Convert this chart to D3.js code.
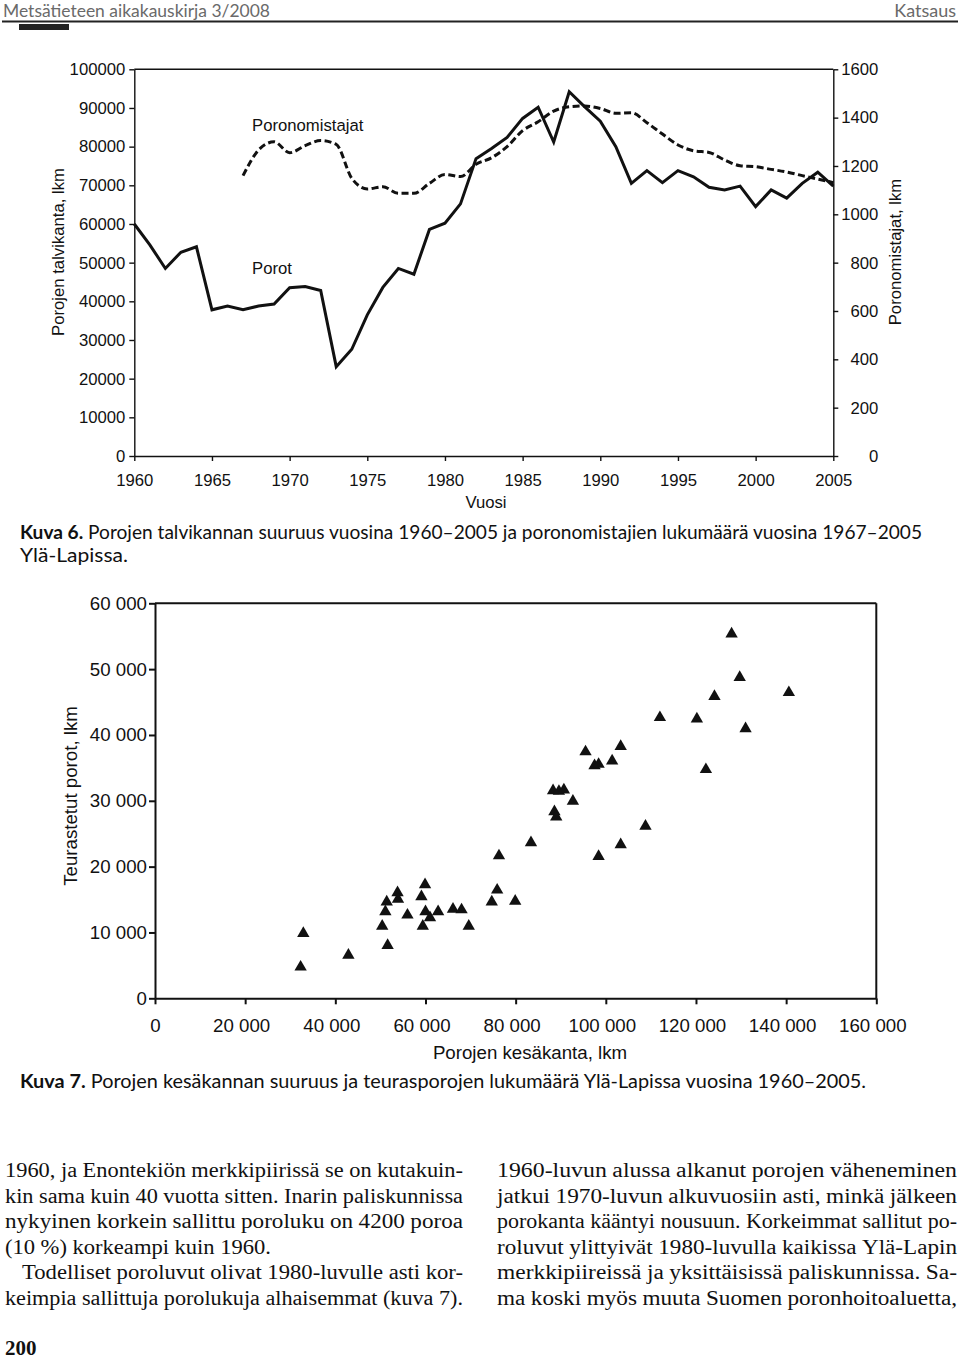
<!DOCTYPE html>
<html><head><meta charset="utf-8">
<script src="https://cdn.jsdelivr.net/npm/d3@7"></script>
<style>body{margin:0;background:#fff} svg{display:block}</style>
</head><body>
<svg id="c" width="960" height="1361"></svg>
<script>
// ---------- DATA ----------
const years = [1960,1961,1962,1963,1964,1965,1966,1967,1968,1969,1970,1971,1972,1973,1974,1975,1976,1977,1978,1979,1980,1981,1982,1983,1984,1985,1986,1987,1988,1989,1990,1991,1992,1993,1994,1995,1996,1997,1998,1999,2000,2001,2002,2003,2004,2005];
const porot = [60000,54600,48500,52700,54100,37800,38800,37800,38800,39300,43500,43800,42800,23100,27600,36500,43600,48500,47000,58600,60200,65200,76900,79500,82400,87300,90200,81200,94200,90300,86600,80000,70500,73800,70700,73800,72200,69500,68800,69800,64500,68800,66700,70500,73400,69800];
const omistajaYears = years.slice(7);
const omistajat = [1160,1266,1300,1255,1284,1305,1289,1149,1105,1114,1087,1087,1128,1165,1156,1207,1234,1280,1346,1383,1427,1445,1448,1438,1418,1420,1379,1332,1287,1263,1256,1225,1201,1197,1186,1175,1160,1146,1131];
const leftTicks = [0,10000,20000,30000,40000,50000,60000,70000,80000,90000,100000];
const rightTicks = [0,200,400,600,800,1000,1200,1400,1600];
const yearTicks = [1960,1965,1970,1975,1980,1985,1990,1995,2000,2005];

const kesakanta = [32300,32900,42900,50400,51100,51400,51600,53800,53900,56000,59100,59900,59400,60000,61000,62800,66100,68000,69600,74700,75900,76300,79900,83400,88300,89600,90700,88600,89000,92700,95500,97500,98400,101400,103300,98400,103300,108800,112000,120200,122200,124100,127900,129700,131000,140600];
const teurastetut = [4900,10000,6700,11100,13300,14800,8200,16200,15200,12800,15600,17400,11100,13300,12400,13300,13700,13600,11100,14800,16600,21800,14900,23800,31700,31600,31800,28500,27700,30100,37600,35500,35700,36200,38400,21700,23500,26300,42800,42600,34900,46000,55500,48900,41100,46600];
const scatterXTicks = [0,20000,40000,60000,80000,100000,120000,140000,160000];
const scatterYTicks = [0,10000,20000,30000,40000,50000,60000];

// text, line width, indent
const col1 = [
  ["1960, ja Enontekiön merkkipiirissä se on kutakuin-", 458, 0],
  ["kin sama kuin 40 vuotta sitten. Inarin paliskunnissa", 458, 0],
  ["nykyinen korkein sallittu poroluku on 4200 poroa", 458, 0],
  ["(10 %) korkeampi kuin 1960.", 266, 0],
  ["Todelliset poroluvut olivat 1980-luvulle asti kor-", 458, 17],
  ["keimpia sallittuja porolukuja alhaisemmat (kuva 7).", 458, 0]
];
const col2 = [
  ["1960-luvun alussa alkanut porojen väheneminen", 460, 0],
  ["jatkui 1970-luvun alkuvuosiin asti, minkä jälkeen", 460, 0],
  ["porokanta kääntyi nousuun. Korkeimmat sallitut po-", 460, 0],
  ["roluvut ylittyivät 1980-luvulla kaikissa Ylä-Lapin", 460, 0],
  ["merkkipiireissä ja yksittäisissä paliskunnissa. Sa-", 460, 0],
  ["ma koski myös muuta Suomen poronhoitoaluetta,", 460, 0]
];

// ---------- DRAW ----------
const svg = d3.select("#c");
const SANS = "'Liberation Sans', Arial, sans-serif";
const HUM = "Lato, 'Open Sans', sans-serif";
const SERIF = "'Liberation Serif', 'Times New Roman', serif";

// header
svg.append("text").attr("x",3).attr("y",17).attr("font-family",HUM).attr("font-size",18)
  .attr("fill","#6a6a6a").attr("textLength",267).attr("lengthAdjust","spacingAndGlyphs")
  .text("Metsätieteen aikakauskirja 3/2008");
svg.append("text").attr("x",956).attr("y",17).attr("font-family",HUM).attr("font-size",18)
  .attr("fill","#6a6a6a").attr("text-anchor","end").text("Katsaus");
svg.append("line").attr("x1",2).attr("x2",958).attr("y1",21.5).attr("y2",21.5).attr("stroke","#222").attr("stroke-width",2);
svg.append("rect").attr("x",19).attr("y",24).attr("width",50).attr("height",6).attr("fill","#222");

// ---------- chart 1 ----------
const x1 = d3.scaleLinear().domain([1960,2005]).range([134.3,833.3]);
const yL = d3.scaleLinear().domain([0,100000]).range([456,69.3]);
const yR = d3.scaleLinear().domain([0,1600]).range([456,69.3]);
const g1 = svg.append("g").attr("font-family",SANS);

function styleAxis(g, fs, sw){
  g.attr("font-family",SANS).attr("font-size",fs);
  g.selectAll("path.domain").attr("stroke","#111").attr("stroke-width",sw);
  g.selectAll(".tick line").attr("stroke","#111").attr("stroke-width",sw);
  g.selectAll(".tick text").attr("fill","#111");
}
g1.append("line").attr("x1",x1(1960)).attr("x2",x1(2005)).attr("y1",yL(100000)).attr("y2",yL(100000)).attr("stroke","#111").attr("stroke-width",1.4);
const aL = g1.append("g").attr("transform",`translate(${x1(1960)},0)`)
  .call(d3.axisLeft(yL).tickValues(leftTicks).tickFormat(d3.format("d")).tickSize(5).tickSizeOuter(0).tickPadding(4));
styleAxis(aL,16.7,1.4);
const aR = g1.append("g").attr("transform",`translate(${x1(2005)},0)`)
  .call(d3.axisRight(yR).tickValues(rightTicks).tickFormat(d3.format("d")).tickSize(5).tickSizeOuter(0));
styleAxis(aR,16.7,1.4);
aR.selectAll(".tick text").attr("text-anchor","end").attr("x",45);
const aB = g1.append("g").attr("transform",`translate(0,${yL(0)})`)
  .call(d3.axisBottom(x1).tickValues(yearTicks).tickFormat(d3.format("d")).tickSize(5).tickSizeOuter(0).tickPadding(13));
styleAxis(aB,16.7,1.4);

g1.append("path").datum(years.map((y,i)=>[y,porot[i]]))
  .attr("fill","none").attr("stroke","#111").attr("stroke-width",3).attr("stroke-linejoin","miter")
  .attr("d", d3.line().x(d=>x1(d[0])).y(d=>yL(d[1])));
g1.append("path").datum(omistajaYears.map((y,i)=>[y,omistajat[i]]))
  .attr("fill","none").attr("stroke","#111").attr("stroke-width",3).attr("stroke-dasharray","7,3.5")
  .attr("d", d3.line().x(d=>x1(d[0])).y(d=>yR(d[1])).curve(d3.curveMonotoneX));

g1.append("text").attr("x",252).attr("y",131).attr("font-size",16.7).attr("fill","#111").text("Poronomistajat");
g1.append("text").attr("x",252).attr("y",274).attr("font-size",16.7).attr("fill","#111").text("Porot");
g1.append("text").attr("x",486).attr("y",508).attr("text-anchor","middle").attr("font-size",16.7).attr("fill","#111").text("Vuosi");
g1.append("text").attr("transform","translate(64,252) rotate(-90)").attr("text-anchor","middle").attr("font-size",16.7).attr("fill","#111").text("Porojen talvikanta, lkm");
g1.append("text").attr("transform","translate(901,252) rotate(-90)").attr("text-anchor","middle").attr("font-size",16.7).attr("fill","#111").text("Poronomistajat, lkm");

// caption 6
const c6 = svg.append("text").attr("x",20).attr("y",539).attr("font-family",HUM).attr("font-size",18.5).attr("fill","#111")
  .attr("textLength",902).attr("lengthAdjust","spacingAndGlyphs");
c6.append("tspan").attr("font-weight","bold").text("Kuva 6.");
c6.append("tspan").text(" Porojen talvikannan suuruus vuosina 1960–2005 ja poronomistajien lukumäärä vuosina 1967–2005");
svg.append("text").attr("x",20).attr("y",562).attr("font-family",HUM).attr("font-size",18.5).attr("fill","#111")
  .attr("textLength",108).attr("lengthAdjust","spacingAndGlyphs").text("Ylä-Lapissa.");

// ---------- chart 2 ----------
const x2 = d3.scaleLinear().domain([0,160000]).range([155,876.3]);
const y2 = d3.scaleLinear().domain([0,60000]).range([998.3,603.3]);
const g2 = svg.append("g").attr("font-family",SANS);
const spaceFmt = v => d3.format(",")(v).replace(/,/g," ");
g2.append("line").attr("x1",x2(0)).attr("x2",x2(160000)).attr("y1",y2(60000)).attr("y2",y2(60000)).attr("stroke","#111").attr("stroke-width",2);
g2.append("line").attr("x1",x2(160000)).attr("x2",x2(160000)).attr("y1",y2(60000)).attr("y2",y2(0)).attr("stroke","#111").attr("stroke-width",2);
const bL = g2.append("g").attr("transform",`translate(${x2(0)},0)`)
  .call(d3.axisLeft(y2).tickValues(scatterYTicks).tickFormat(spaceFmt).tickSize(6).tickSizeOuter(0).tickPadding(2));
styleAxis(bL,18.7,2);
const bB = g2.append("g").attr("transform",`translate(0,${y2(0)})`)
  .call(d3.axisBottom(x2).tickValues(scatterXTicks).tickFormat(spaceFmt).tickSize(6).tickSizeOuter(0).tickPadding(14));
styleAxis(bB,18.7,2);
bB.selectAll(".tick text").attr("x",d=>d===0?0:-4);

const tri = d3.symbol().type(d3.symbolTriangle).size(66);
g2.append("g").selectAll("path").data(kesakanta.map((k,i)=>[k,teurastetut[i]])).join("path")
  .attr("transform",d=>`translate(${x2(d[0])},${y2(d[1])+1})`).attr("d",tri).attr("fill","#111");

g2.append("text").attr("x",530).attr("y",1059).attr("text-anchor","middle").attr("font-size",18.7).attr("fill","#111").text("Porojen kesäkanta, lkm");
g2.append("text").attr("transform","translate(77,796) rotate(-90)").attr("text-anchor","middle").attr("font-size",18.7).attr("fill","#111").text("Teurastetut porot, lkm");

const c7 = svg.append("text").attr("x",20).attr("y",1088).attr("font-family",HUM).attr("font-size",18.5).attr("fill","#111")
  .attr("textLength",846).attr("lengthAdjust","spacingAndGlyphs");
c7.append("tspan").attr("font-weight","bold").text("Kuva 7.");
c7.append("tspan").text(" Porojen kesäkannan suuruus ja teurasporojen lukumäärä Ylä-Lapissa vuosina 1960–2005.");

// ---------- body text ----------
const FS = 20.5;
function drawLine(x0, W, y, str, indent){
  const words = str.split(" ");
  const g = svg.append("g").attr("font-family",SERIF).attr("font-size",FS).attr("fill","#111");
  const nodes = words.map(w => g.append("text").attr("y",y).text(w));
  const widths = nodes.map(n => n.node().getComputedTextLength());
  const sum = d3.sum(widths);
  const avail = W - indent;
  const gap0 = 5.5;
  const scale = (avail - gap0*(words.length-1))/sum;
  let cx = x0 + indent;
  nodes.forEach((n,i)=>{
    const w = widths[i]*scale;
    n.attr("x",cx).attr("textLength",w).attr("lengthAdjust","spacingAndGlyphs");
    cx += w + gap0;
  });
}
const baselines = [1177,1202.5,1228,1253.5,1279,1304.5];
col1.forEach((l,i)=>drawLine(5,l[1],baselines[i],l[0],l[2]));
col2.forEach((l,i)=>drawLine(497,l[1],baselines[i],l[0],l[2]));
svg.append("text").attr("x",5).attr("y",1355).attr("font-family",SERIF).attr("font-weight","bold").attr("font-size",21).attr("fill","#111").text("200");
</script>
</body></html>
